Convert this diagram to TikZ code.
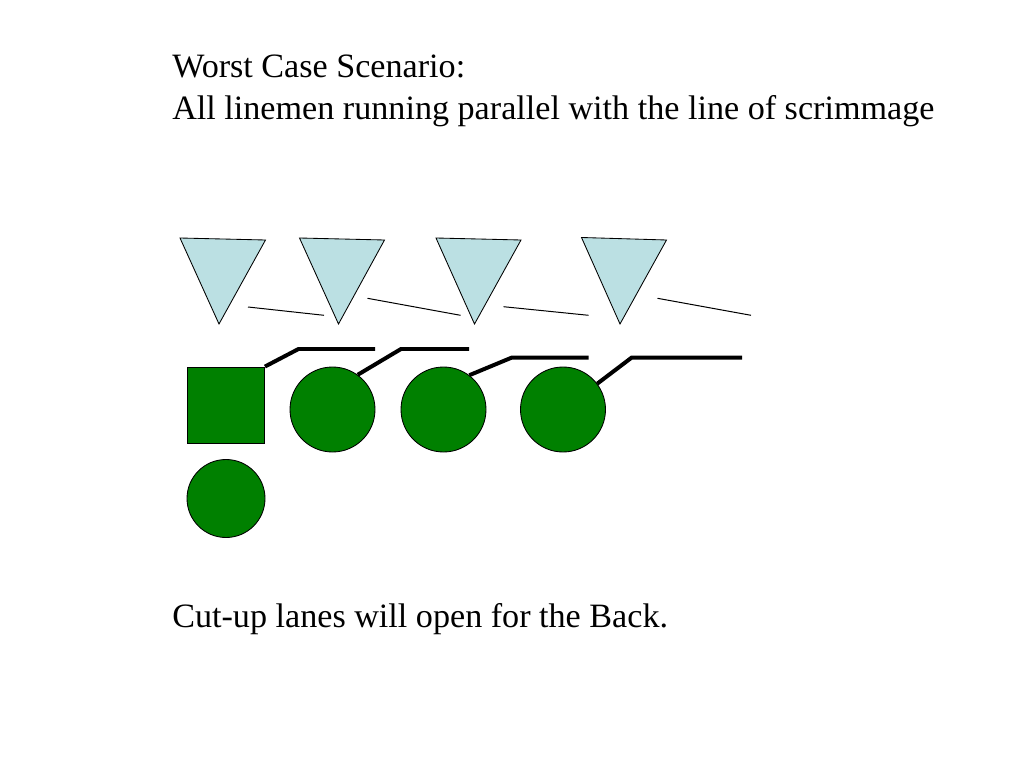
\documentclass[tikz,border=0pt]{standalone}
\usepackage{fontspec}
\setmainfont{Liberation Serif}
\begin{document}
\begin{tikzpicture}[x=0.703125pt,y=-0.703125pt,
  title/.style={anchor=base west,inner sep=0pt,font=\fontsize{24pt}{29.5pt}\selectfont},
  defender/.style={draw=black,line width=0.6pt,fill=tri,line join=miter},
  player/.style={draw=black,line width=0.6pt,fill=pgreen,circle,inner sep=0pt,minimum size=85*0.703125pt},
  back/.style={draw=black,line width=0.6pt,fill=pgreen,circle,inner sep=0pt,minimum size=78*0.703125pt},
  center/.style={draw=black,line width=0.6pt,fill=pgreen,rectangle,inner sep=0pt,minimum width=77*0.703125pt,minimum height=76*0.703125pt},
  thinline/.style={draw=black,line width=0.7pt},
  block/.style={draw=black,line width=2.8pt,line join=miter}]
\definecolor{tri}{RGB}{187,224,227}
\definecolor{pgreen}{RGB}{0,128,0}
\useasboundingbox (0,0) rectangle (1024,768);
% texts
\node[title] (t1) at (172,78) {Worst Case Scenario:};
\node[title] (t2) at (172,120) {All linemen running parallel with the line of scrimmage};
\node[title] (t3) at (172,627) {Cut-up lanes will open for the Back.};
% defenders
\path[defender] (180,238) -- (265.5,240) -- (219,324) -- cycle;
\path[defender] (299.5,238) -- (384.5,240) -- (338.5,324) -- cycle;
\path[defender] (436,238) -- (521,240) -- (474.5,324) -- cycle;
\path[defender] (581.5,237.5) -- (666.5,240) -- (620,324) -- cycle;
% defender lines
\path[thinline] (248,307) -- (324,315.3);
\path[thinline] (367.5,298.3) -- (460.5,315.3);
\path[thinline] (503.5,306.7) -- (588.5,315.3);
\path[thinline] (657.5,298.3) -- (751,315.3);
% offense
\node[center] (sq) at (226,405) {};
\node[player] (c1) at (332.5,409.5) {};
\node[player] (c2) at (443.5,409.5) {};
\node[player] (c3) at (563,409.5) {};
\node[back] (b) at (226,498.5) {};
% blocks
\coordinate (k0) at (298.5,349);
\coordinate (e0) at (375,349);
\coordinate (k1) at (401,349);
\coordinate (e1) at (469,349);
\coordinate (k2) at (511.5,357.7);
\coordinate (e2) at (588.5,357.7);
\coordinate (k3) at (631.5,357.7);
\coordinate (e3) at (742,357.7);
\path[block] (sq.north east) -- (k0) -- (e0);
\path[block] (c1.54) -- (k1) -- (e1);
\path[block] (c2.53) -- (k2) -- (e2);
\path[block] (c3.37) -- (k3) -- (e3);
\end{tikzpicture}
\end{document}
